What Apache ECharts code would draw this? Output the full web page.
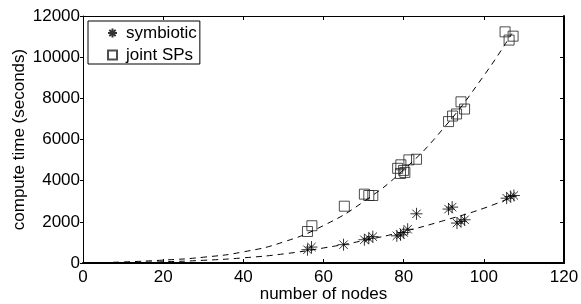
<!DOCTYPE html>
<html>
<head>
<meta charset="utf-8">
<script src="https://cdn.jsdelivr.net/npm/echarts@6/dist/echarts.min.js"></script>
<style>
  html, body { margin: 0; padding: 0; background: #fff; }
  #chart { width: 581px; height: 304px; }
</style>
</head>
<body>
<div id="chart"></div>
<script>
// measured points
var symbioticNodes = [56, 57, 65, 70.2, 71.3, 72.3, 78.3, 79.2, 80, 81, 83.2, 91.2, 92.1, 93.3, 94.3, 95.2, 105.7, 106.7, 107.5];
var symbioticTime = [645, 775, 890, 1130, 1200, 1280, 1320, 1370, 1480, 1640, 2390, 2620, 2715, 1940, 2020, 2100, 3150, 3230, 3280];

var jointNodes = [56, 57.1, 65.2, 70.2, 71.3, 72.3, 78.5, 79.3, 79.2, 80.3, 80, 81.3, 83.2, 91.2, 92.2, 93.2, 94.3, 95.2, 105.3, 106.3, 107.3];
var jointTime = [1530, 1810, 2760, 3345, 3280, 3280, 4600, 4770, 4350, 4400, 4500, 5010, 5040, 6870, 7140, 7240, 7830, 7480, 11230, 10830, 11020];

// dashed fit curves
var fitNodes = [2, 10, 20, 30, 40, 50, 60, 70, 80, 90, 100, 107];
var symbioticFit = [5, 20, 60, 130, 250, 440, 730, 1090, 1530, 2060, 2660, 3200];
var jointFit = [5, 50, 140, 280, 540, 1020, 1820, 2980, 4530, 6560, 9100, 11150];

var xTicks = [0, 20, 40, 60, 80, 100, 120];
var yTicks = [0, 2000, 4000, 6000, 8000, 10000, 12000];

var font = 'Liberation Sans, Arial, Helvetica, sans-serif';
var star = 'path://M0,-10L0,10M-10,0L10,0M-7,-7L7,7M-7,7L7,-7';

function pairs(xs, ys) {
  return xs.map(function (x, i) { return [x, ys[i]]; });
}

var chart = echarts.init(document.getElementById('chart'));

chart.setOption({
  animation: false,
  backgroundColor: '#fff',
  grid: { left: 83, right: 17, top: 16, bottom: 41, outerBoundsMode: 'none' },
  legend: {
    data: [
      { name: 'symbiotic', icon: star },
      { name: 'joint SPs', icon: 'rect' }
    ],
    orient: 'vertical',
    left: 88,
    top: 21,
    padding: [3, 3, 0, 19],
    itemGap: 4,
    itemWidth: 9,
    itemHeight: 9,
    borderColor: '#000',
    borderWidth: 1,
    backgroundColor: '#fff',
    textStyle: { fontSize: 17, lineHeight: 18, color: '#000', fontFamily: font, padding: [0, 0, 0, 4] }
  },
  xAxis: [
    {
      type: 'value', min: xTicks[0], max: xTicks[xTicks.length - 1], interval: 20,
      position: 'bottom',
      name: 'number of nodes', nameLocation: 'middle', nameGap: 23, nameMoveOverlap: false,
      nameTextStyle: { fontSize: 17, color: '#000', fontFamily: font },
      axisLine: { onZero: false, lineStyle: { color: '#000', width: 2 } },
      axisTick: { inside: true, length: 4, lineStyle: { color: '#000' } },
      axisLabel: { color: '#000', fontSize: 17, margin: 6, fontFamily: font },
      splitLine: { show: false }
    },
    {
      type: 'value', min: xTicks[0], max: xTicks[xTicks.length - 1], interval: 20,
      position: 'top',
      axisLine: { onZero: false, lineStyle: { color: '#000', width: 1 } },
      axisTick: { inside: true, length: 4, lineStyle: { color: '#000' } },
      axisLabel: { show: false },
      splitLine: { show: false }
    }
  ],
  yAxis: [
    {
      type: 'value', min: yTicks[0], max: yTicks[yTicks.length - 1], interval: 2000,
      position: 'left',
      name: 'compute time (seconds)', nameLocation: 'middle', nameGap: 55, nameMoveOverlap: false,
      nameTextStyle: { fontSize: 17, color: '#000', fontFamily: font },
      axisLine: { onZero: false, lineStyle: { color: '#000', width: 1 } },
      axisTick: { inside: false, length: 3, lineStyle: { color: '#000' } },
      axisLabel: {
        color: '#000', fontSize: 17, margin: 3, fontFamily: font,
        formatter: function (v) { return String(v); }
      },
      splitLine: { show: false }
    },
    {
      type: 'value', min: yTicks[0], max: yTicks[yTicks.length - 1], interval: 2000,
      position: 'right',
      axisLine: { onZero: false, lineStyle: { color: '#000', width: 2 } },
      axisTick: { inside: true, length: 4, lineStyle: { color: '#000' } },
      axisLabel: { show: false },
      splitLine: { show: false }
    }
  ],
  series: [
    {
      name: 'symbiotic fit', type: 'line', smooth: true, showSymbol: false, silent: true,
      data: pairs(fitNodes, symbioticFit),
      lineStyle: { color: '#000', width: 1, type: [6, 5] }
    },
    {
      name: 'joint SPs fit', type: 'line', smooth: true, showSymbol: false, silent: true,
      data: pairs(fitNodes, jointFit),
      lineStyle: { color: '#000', width: 1, type: [6, 5] }
    },
    {
      name: 'symbiotic', type: 'scatter', symbol: star, symbolSize: 12,
      data: pairs(symbioticNodes, symbioticTime),
      itemStyle: { color: 'transparent', borderColor: '#000', borderWidth: 1 }
    },
    {
      name: 'joint SPs', type: 'scatter', symbol: 'rect', symbolSize: 10,
      data: pairs(jointNodes, jointTime),
      itemStyle: { color: 'transparent', borderColor: '#222', borderWidth: 1 }
    }
  ]
});
</script>
</body>
</html>
